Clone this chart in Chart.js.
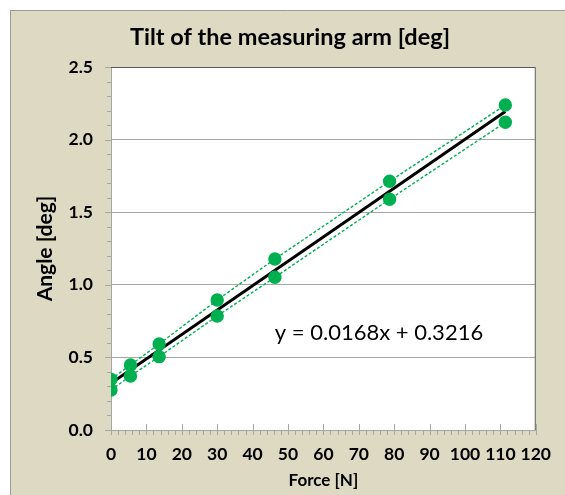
<!DOCTYPE html>
<html>
<head>
<meta charset="utf-8">
<script src="https://cdn.jsdelivr.net/npm/chart.js@4.4.1/dist/chart.umd.min.js"></script>
<style>
  html, body { margin: 0; padding: 0; background: #fff; }
  #wrap { width: 565px; height: 495px; }
</style>
</head>
<body>
<div id="wrap"><canvas id="tilt" width="565" height="495"></canvas></div>
<script>
// values
const force = [0, 5.5, 13.6, 30, 46.3, 78.7, 111.4];
const angleUpper = [0.349, 0.448, 0.592, 0.895, 1.178, 1.713, 2.238];
const angleLower = [0.275, 0.372, 0.505, 0.785, 1.052, 1.589, 2.119];
const trendForce = [0, 111.4];
const trendAngle = [0.3216, 2.193];
const xTicks = [0, 10, 20, 30, 40, 50, 60, 70, 80, 90, 100, 110, 120];
const yTicks = [0.0, 0.5, 1.0, 1.5, 2.0, 2.5];
const equationText = 'y = 0.0168x + 0.3216';
const chartTitle = 'Tilt of the measuring arm [deg]';

const FONT = 'Lato, "Open Sans", sans-serif';
const GREEN = '#00b050';

function pts(xs, ys){ return xs.map((x, i) => ({ x: x, y: ys[i] })); }

const frame = {
  id: 'frame',
  beforeDraw(chart){
    const c = chart.ctx, a = chart.chartArea;
    c.save();
    c.fillStyle = '#ffffff';
    c.fillRect(0, 0, chart.width, chart.height);
    c.fillStyle = '#ddd9c3';
    c.fillRect(10, 10, chart.width - 10, chart.height - 10);
    c.strokeStyle = '#9a9a9a';
    c.lineWidth = 1;
    c.beginPath();
    c.moveTo(10.5, chart.height); c.lineTo(10.5, 10.5); c.lineTo(chart.width, 10.5);
    c.stroke();
    c.fillStyle = '#ffffff';
    c.fillRect(a.left, a.top, a.right - a.left, a.bottom - a.top);
    c.restore();
  },
  afterDraw(chart){
    const c = chart.ctx, a = chart.chartArea;
    const xs = chart.scales.x, ys = chart.scales.y;
    c.save();
    c.lineWidth = 1;
    // plot border top / right
    c.strokeStyle = '#595959';
    c.beginPath();
    c.moveTo(a.left, a.top + 0.5); c.lineTo(a.right - 0.5, a.top + 0.5); c.lineTo(a.right - 0.5, a.bottom);
    c.stroke();
    // axis ticks
    c.strokeStyle = '#a6a6a6';
    c.beginPath();
    for (let v = 0; v <= 120; v += 2) {
      const px = Math.round(xs.getPixelForValue(v)) + 0.5;
      if (v % 10 === 0) { c.moveTo(px, a.bottom - 6); c.lineTo(px, a.bottom + 5); }
      else { c.moveTo(px, a.bottom); c.lineTo(px, a.bottom + 5); }
    }
    for (let k = 0; k <= 25; k++) {
      const py = Math.round(ys.getPixelForValue(k / 10)) + 0.5;
      if (k % 5 === 0) { c.moveTo(a.left - 6, py); c.lineTo(a.left, py); }
      else { c.moveTo(a.left - 4, py); c.lineTo(a.left, py); }
    }
    c.stroke();
    // title, axis titles, equation
    c.fillStyle = '#000';
    c.textAlign = 'center';
    c.textBaseline = 'middle';
    c.font = 'bold 23.5px ' + FONT;
    c.fillText(chartTitle, 290, 37);
    c.font = 'bold 17px ' + FONT;
    c.fillText('Force [N]', (a.left + a.right) / 2, 481);
    c.font = 'bold 21px ' + FONT;
    c.save();
    c.translate(45, (a.top + a.bottom) / 2);
    c.rotate(-Math.PI / 2);
    c.fillText('Angle [deg]', 0, 0);
    c.restore();
    c.font = '22px ' + FONT;
    c.fillText(equationText, 379, 333);
    c.restore();
  }
};

new Chart(document.getElementById('tilt'), {
  type: 'scatter',
  data: {
    datasets: [
      { label: 'trend', data: pts(trendForce, trendAngle), showLine: true, borderColor: '#000', borderWidth: 3, pointRadius: 0, order: 3 },
      { label: 'upper', data: pts(force, angleUpper), showLine: true, borderColor: GREEN, borderWidth: 1.4, borderDash: [3, 2],
        backgroundColor: GREEN, pointBackgroundColor: GREEN, pointBorderColor: GREEN, pointRadius: 6, order: 1 },
      { label: 'lower', data: pts(force, angleLower), showLine: true, borderColor: GREEN, borderWidth: 1.4, borderDash: [3, 2],
        backgroundColor: GREEN, pointBackgroundColor: GREEN, pointBorderColor: GREEN, pointRadius: 6, order: 2 }
    ]
  },
  options: {
    responsive: false,
    animation: false,
    layout: { padding: { left: 0, top: 67, right: 28, bottom: 0 } },
    plugins: { legend: { display: false }, tooltip: { enabled: false }, title: { display: false } },
    scales: {
      x: {
        type: 'linear', min: 0, max: 120,
        afterBuildTicks(s){ s.ticks = xTicks.map(v => ({ value: v })); },
        afterFit(s){ s.height = 65; },
        grid: { display: false, drawTicks: false },
        border: { display: true, color: '#a6a6a6' },
        ticks: { padding: 14, color: '#000', font: { family: FONT, size: 17.5, weight: 'bold' }, maxRotation: 0, autoSkip: false }
      },
      y: {
        type: 'linear', min: 0, max: 2.5,
        afterBuildTicks(s){ s.ticks = yTicks.map(v => ({ value: v })); },
        afterFit(s){ s.width = 111; },
        grid: { color: '#a6a6a6', drawTicks: false },
        border: { display: true, color: '#a6a6a6' },
        ticks: { padding: 18, color: '#000', font: { family: FONT, size: 17.5, weight: 'bold' },
          callback: v => Number(v).toFixed(1) }
      }
    }
  },
  plugins: [frame]
});
</script>
</body>
</html>
